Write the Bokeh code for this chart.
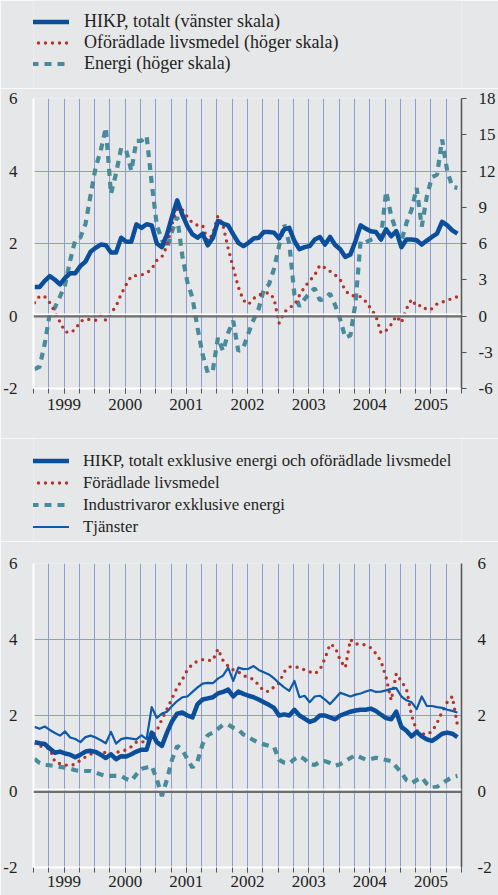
from bokeh.plotting import figure
from bokeh.models import Range1d, LinearAxis, FixedTicker, Span, Legend, LegendItem
from bokeh.layouts import column
from bokeh.embed import file_html
from bokeh.resources import INLINE

# ---------------- data (monthly, Jan 1999 - Dec 2005) ----------------
years = ["1999", "2000", "2001", "2002", "2003", "2004", "2005"]

hikp_total = [
    0.8, 0.8, 0.97, 1.1, 1.0, 0.87, 1.05, 1.18, 1.18, 1.38, 1.5, 1.77,
    1.88, 1.97, 1.95, 1.75, 1.75, 2.16, 2.05, 2.05, 2.53, 2.43, 2.53, 2.5,
    2.0, 1.9, 2.25, 2.75, 3.19, 2.8, 2.48, 2.25, 2.16, 2.27, 1.95, 2.15,
    2.62, 2.55, 2.5, 2.25, 2.02, 1.93, 2.02, 2.14, 2.16, 2.32, 2.32, 2.3,
    2.14, 2.39, 2.43, 2.07, 1.84, 1.9, 1.93, 2.11, 2.18, 1.97, 2.18, 1.96,
    1.84, 1.63, 1.7, 2.07, 2.5, 2.41, 2.34, 2.32, 2.11, 2.39, 2.2, 2.34,
    1.9, 2.11, 2.11, 2.09, 1.97, 2.08, 2.18, 2.27, 2.6, 2.5, 2.36, 2.27,
]
oforadlade = [
    1.1, 1.65, 1.6, 1.1, 0.35, -0.5, -1.3, -1.4, -1.1, -0.45, -0.25, -0.3,
    -0.35, 0.08, -0.36, 0.25, 0.8, 1.8, 2.6, 3.3, 3.35, 3.4, 3.55, 3.9,
    4.6, 4.9, 5.8, 7.6, 8.9, 8.8, 8.2, 7.7, 7.5, 7.5, 6.2, 6.8,
    8.3, 7.5, 5.6, 4.0, 2.4, 1.3, 0.96, 1.45, 1.75, 1.85, 1.93, 1.46,
    -0.6, 0.3, 0.7, 0.9, 1.7, 2.4, 2.9, 3.4, 4.2, 4.0, 3.7, 3.4,
    3.0, 2.1, 1.7, 1.65, 1.6, 1.2, 0.6, 0.0, -1.4, -1.2, -0.7, 0.0,
    -0.55, 0.6, 1.38, 0.8, 0.9, 0.5, 0.6, 1.0, 1.15, 1.3, 1.45, 1.6,
]
energi = [
    -4.4, -4.2, -2.3, 0.2, 0.7, 1.6, 2.6, 4.6, 6.3, 6.5, 7.6, 10.0,
    12.3, 13.7, 15.6, 10.1, 11.8, 13.9, 13.7, 12.0, 14.5, 14.5, 14.9, 11.0,
    7.5, 6.3, 5.6, 7.0, 8.2, 5.0, 2.8, 1.5, -1.0, -3.2, -4.7, -4.5,
    -1.8, -2.9, -1.4, -0.4, -2.9, -2.6, -1.4, -0.3, 0.6, 2.2, 2.6, 3.9,
    5.8, 7.6, 6.0, 1.8, 0.8, 1.4, 1.9, 2.3, 1.3, 1.45, 1.85, 0.9,
    -0.3, -1.8, -1.6, 1.1, 6.2, 6.1, 6.3, 6.5, 6.5, 10.3, 8.3, 7.0,
    6.2, 7.7, 8.8, 10.6, 7.4, 9.9, 11.5, 11.7, 14.6, 12.0, 10.7, 10.6,
]

hikp_exkl = [
    1.3, 1.27, 1.25, 1.13, 1.02, 1.05, 1.0, 0.97, 0.9, 0.97, 1.05, 1.07,
    1.04, 0.97, 0.88, 0.98, 0.85, 0.93, 0.92, 0.98, 1.05, 1.1, 1.1, 1.55,
    1.3, 1.2, 1.55, 1.85, 2.05, 2.08, 2.0, 1.95, 2.3, 2.42, 2.45, 2.48,
    2.58, 2.62, 2.68, 2.5, 2.63, 2.57, 2.52, 2.48, 2.42, 2.35, 2.28, 2.2,
    2.0, 2.03, 2.0, 2.15, 2.0, 1.92, 1.83, 1.88, 2.0, 2.0, 1.95, 1.9,
    2.0, 2.05, 2.1, 2.13, 2.15, 2.15, 2.18, 2.12, 2.02, 1.93, 1.9, 2.1,
    1.7, 1.6, 1.45, 1.57, 1.45, 1.37, 1.33, 1.42, 1.52, 1.55, 1.52, 1.43,
]
foradlade = [
    1.26, 1.2, 1.17, 1.12, 0.78, 0.73, 0.7, 0.68, 0.72, 0.82, 0.91, 0.98,
    1.03, 1.04, 1.02, 0.98, 1.03, 1.05, 1.1, 1.18, 1.3, 1.29, 1.35, 1.45,
    1.6, 1.9, 2.17, 2.45, 2.74, 2.94, 3.2, 3.35, 3.43, 3.47, 3.45, 3.45,
    3.75, 3.45, 3.3, 3.2, 3.15, 3.05, 3.0, 2.95, 2.8, 2.65, 2.63, 2.75,
    2.85, 3.15, 3.28, 3.28, 3.26, 3.2, 3.15, 3.1, 3.2, 3.5, 3.88, 3.8,
    3.45, 3.26, 4.0, 3.88, 3.88, 3.85, 3.78, 3.63, 3.43, 3.0, 2.4, 3.1,
    2.9, 2.7, 2.0, 1.6, 1.52, 1.5, 1.58, 1.8, 2.1, 2.35, 2.5, 1.75,
]
industrivaror = [
    0.86, 0.75, 0.7, 0.69, 0.67, 0.65, 0.63, 0.6, 0.56, 0.54, 0.54, 0.54,
    0.5, 0.45, 0.41, 0.41, 0.41, 0.41, 0.33, 0.28, 0.45, 0.6, 0.63, 0.67,
    0.32, -0.12, 0.32, 0.84, 1.2, 1.1, 0.85, 0.63, 0.8, 1.25, 1.48, 1.55,
    1.65, 1.76, 1.76, 1.68, 1.63, 1.5, 1.43, 1.35, 1.28, 1.24, 1.2, 1.17,
    0.83, 0.76, 0.74, 0.85, 0.93, 0.85, 0.72, 0.7, 0.78, 0.8, 0.75, 0.68,
    0.72, 0.8, 0.88, 0.96, 0.9, 0.84, 0.85, 0.89, 0.86, 0.83, 0.8, 0.65,
    0.5, 0.3, 0.22, 0.3, 0.37, 0.2, 0.1, 0.12, 0.22, 0.3, 0.38, 0.41,
]
tjanster = [
    1.7, 1.65, 1.71, 1.62, 1.54, 1.47, 1.58, 1.42, 1.38, 1.3, 1.43, 1.47,
    1.42, 1.35, 1.27, 1.57, 1.26, 1.38, 1.41, 1.39, 1.37, 1.48, 1.38, 2.22,
    1.94, 2.05, 2.1, 2.25, 2.38, 2.48, 2.5, 2.62, 2.74, 2.84, 2.86, 2.85,
    2.97, 3.05, 3.26, 2.91, 3.26, 3.22, 3.23, 3.3, 3.2, 3.14, 3.08, 2.98,
    2.85, 2.74, 2.65, 2.91, 2.48, 2.52, 2.35, 2.5, 2.52, 2.42, 2.3, 2.45,
    2.6, 2.55, 2.5, 2.55, 2.58, 2.63, 2.67, 2.62, 2.63, 2.66, 2.7, 2.72,
    2.5, 2.4, 2.35, 2.17, 2.5, 2.25, 2.25, 2.22, 2.2, 2.15, 2.12, 2.08,
]

left_ticks = [-2, 0, 2, 4, 6]
right_ticks_top = [-6, -3, 0, 3, 6, 9, 12, 15, 18]

legend_top = ["HIKP, totalt (vänster skala)",
              "Oförädlade livsmedel (höger skala)",
              "Energi (höger skala)"]
legend_bottom = ["HIKP, totalt exklusive energi och oförädlade livsmedel",
                 "Förädlade livsmedel",
                 "Industrivaror exklusive energi",
                 "Tjänster"]

# month positions (month index from Jan 1999)
months = [i + 0.2 for i in range(len(hikp_total))]

# ---------------- style ----------------
FONT = "'Liberation Serif', 'Times New Roman', serif"
BG = "#e6e7e9"
GRID = "#8e9cd6"
TXT = "#231f20"
BLUE = "#0b4f9c"
BLUE2 = "#0d5aa8"
RED = "#b3342b"
TEAL = "#4a8b9b"
AXC = "#555555"
W = 498

year_centers = [6 + 12 * k for k in range(len(years))]
quarters = list(range(0, 85, 3))

STY = {
    "hk": dict(line_color=BLUE, line_width=4.5, line_join="round"),
    "red": dict(line_color=RED, line_width=3.4, line_dash="0 7", line_cap="round"),
    "teal": dict(line_color=TEAL, line_width=4.2, line_dash="7 6"),
    "tj": dict(line_color=BLUE2, line_width=2.2, line_join="round"),
}


def neg_labels(ticks):
    return {t: str(t) for t in ticks if t < 0}


def base_figure(height, top, bottom, standoff):
    p = figure(width=W, height=height, x_range=Range1d(0, 84), y_range=Range1d(-2, 6),
               output_backend="svg", toolbar_location=None,
               min_border_left=33, min_border_right=37,
               min_border_top=top, min_border_bottom=bottom)
    p.background_fill_color = BG
    p.border_fill_color = BG
    p.outline_line_color = None
    p.xgrid.ticker = FixedTicker(ticks=quarters[1:-1])
    p.ygrid.ticker = FixedTicker(ticks=[2, 4, 6])
    p.xgrid.grid_line_color = GRID
    p.ygrid.grid_line_color = GRID
    xa = p.xaxis[0]
    xa.ticker = FixedTicker(ticks=year_centers, minor_ticks=quarters)
    xa.major_label_overrides = {c: y for c, y in zip(year_centers, years)}
    xa.axis_line_color = "white"
    xa.axis_line_width = 2
    xa.major_tick_line_color = AXC
    xa.minor_tick_line_color = AXC
    xa.major_tick_in = 0
    xa.minor_tick_in = 0
    xa.major_tick_out = 5
    xa.minor_tick_out = 5
    xa.major_label_standoff = standoff
    xa.major_label_text_font = FONT
    xa.major_label_text_font_size = "17px"
    xa.major_label_text_color = TXT
    ya = p.yaxis[0]
    ya.ticker = FixedTicker(ticks=left_ticks)
    ya.major_label_overrides = neg_labels(left_ticks)
    ya.axis_line_color = "white"
    ya.axis_line_width = 2
    ya.major_tick_line_color = None
    ya.minor_tick_line_color = None
    ya.major_label_standoff = 10
    ya.major_label_text_font = FONT
    ya.major_label_text_font_size = "17px"
    ya.major_label_text_color = TXT
    p.add_layout(Span(location=0.05, dimension="width", line_color="white", line_width=1.5))
    p.add_layout(Span(location=-0.012, dimension="width", line_color="#6e6e6e", line_width=2.2))
    return p


def style_right(ax, ticks, ticks_out):
    ax.major_label_overrides = neg_labels(ticks)
    ax.axis_line_color = AXC
    ax.axis_line_width = 1.5
    ax.major_tick_line_color = AXC if ticks_out else None
    ax.major_tick_in = 0
    ax.major_tick_out = ticks_out
    ax.minor_tick_line_color = None
    ax.major_label_standoff = 12 if ticks_out else 16
    ax.major_label_text_font = FONT
    ax.major_label_text_font_size = "17px"
    ax.major_label_text_color = TXT


def legend_figure(height, labels, series, styles, vy, font_size, row_h, spacing, standoff):
    # separate strip holding the legend; its sample lines lie outside the visible range
    lf = figure(width=W, height=height, x_range=Range1d(0, 84), y_range=Range1d(100, 101),
                x_axis_location=None, y_axis_location=None,
                output_backend="svg", toolbar_location=None,
                min_border_left=0, min_border_right=0, min_border_top=0, min_border_bottom=0)
    lf.grid.visible = False
    lf.background_fill_color = BG
    lf.border_fill_color = BG
    lf.outline_line_color = None
    items = []
    for lab, ys, st in zip(labels, series, styles):
        r = lf.line(months, ys, **STY[st])
        items.append(LegendItem(label=lab, renderers=[r]))
    lg = Legend(items=items, location=(-2, vy), orientation="vertical",
                glyph_width=38, glyph_height=row_h, label_height=row_h, spacing=spacing,
                padding=0, margin=0, label_standoff=standoff,
                label_text_font=FONT, label_text_font_size=font_size, label_text_color=TXT,
                border_line_color=None, background_fill_alpha=0)
    lf.add_layout(lg)
    return lf


# ---------------- top panel ----------------
L1 = legend_figure(88, legend_top, [hikp_total, oforadlade, energi],
                   ["hk", "red", "teal"], 14, "18px", 19, 0, 15)

p1 = base_figure(350, 10, 50, 5)
p1.extra_y_ranges = {"right": Range1d(-6, 18)}
ra = LinearAxis(y_range_name="right", ticker=FixedTicker(ticks=right_ticks_top))
style_right(ra, right_ticks_top, 5)
p1.add_layout(ra, "right")
p1.line(months, energi, y_range_name="right", **STY["teal"])
p1.line(months, oforadlade, y_range_name="right", **STY["red"])
p1.line(months, hikp_total, **STY["hk"])

# ---------------- bottom panel ----------------
L2 = legend_figure(103, legend_bottom, [hikp_exkl, foradlade, industrivaror, tjanster],
                   ["hk", "red", "teal", "tj"], 4, "16.8px", 21, 1, 14)

p2 = base_figure(354, 22, 28, 3)
ra2 = LinearAxis(ticker=FixedTicker(ticks=left_ticks))
style_right(ra2, left_ticks, 0)
p2.add_layout(ra2, "right")
p2.line(months, industrivaror, **STY["teal"])
p2.line(months, foradlade, **STY["red"])
p2.line(months, tjanster, **STY["tj"])
p2.line(months, hikp_exkl, **STY["hk"])

layout = column(L1, p1, L2, p2, spacing=0)
open("out.html", "w").write(file_html(layout, INLINE))
